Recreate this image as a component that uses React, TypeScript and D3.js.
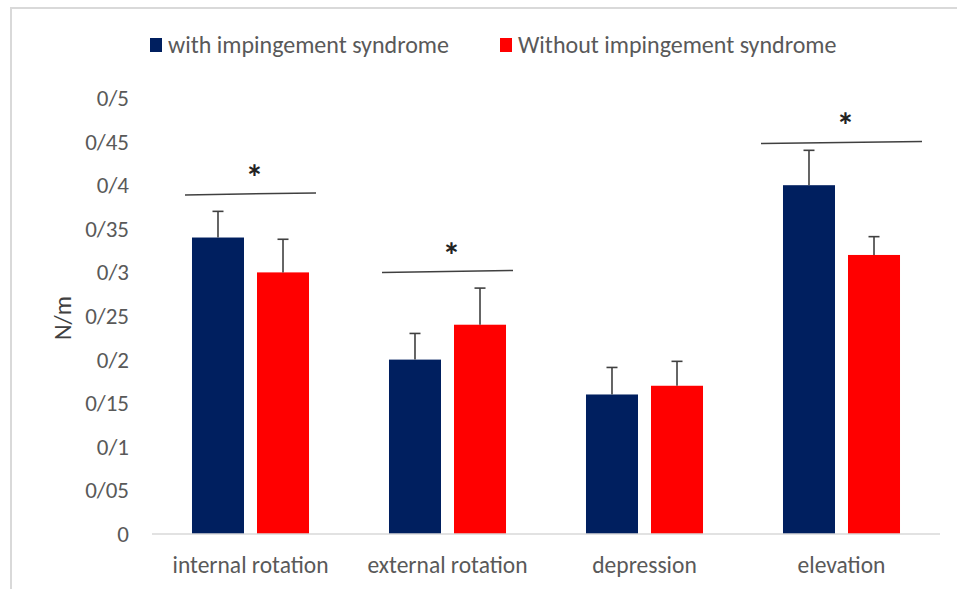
import React from 'react';
import * as d3 from 'd3';

const categories = ['internal rotation', 'external rotation', 'depression', 'elevation'];
const series = ['with impingement syndrome', 'Without impingement syndrome'];
const colors = ['#001f5f', '#ff0000'];
const withValues = [0.34, 0.2, 0.16, 0.4];
const withErrors = [0.03, 0.03, 0.031, 0.04];
const withoutValues = [0.3, 0.24, 0.17, 0.32];
const withoutErrors = [0.038, 0.042, 0.028, 0.021];
const yTicks = [0, 0.05, 0.1, 0.15, 0.2, 0.25, 0.3, 0.35, 0.4, 0.45, 0.5];
const yTickLabels = ['0', '0/05', '0/1', '0/15', '0/2', '0/25', '0/3', '0/35', '0/4', '0/45', '0/5'];
// significance markers: category, bracket level
const sigCategories = ['internal rotation', 'external rotation', 'elevation'];
const sigLevels = [0.39, 0.301, 0.449];

const font = "Carlito, 'Liberation Sans Narrow', 'Open Sans', sans-serif";

const App = () => {
  const width = 957;
  const height = 589;

  const x0 = d3.scaleBand().domain(categories).range([152, 940]).paddingInner(0.406).paddingOuter(0.203);
  const x1 = d3.scaleBand().domain(series).range([0, x0.bandwidth()]).paddingInner(0.2);
  const y = d3.scaleLinear().domain([0, 0.5]).range([534, 98]);

  const data = [withValues, withoutValues];
  const errs = [withErrors, withoutErrors];

  return (
    <svg width={width} height={height} style={{ position: 'absolute', left: 0, top: 0, background: '#fff' }}>
      <rect x={11} y={8} width={960} height={600} fill="#fff" stroke="#d9d9d9" strokeWidth={2} />

      {/* legend */}
      {series.map((s, i) => {
        const lx = i === 0 ? 150 : 500;
        return (
          <g key={s}>
            <rect x={lx} y={38} width={12} height={14} fill={colors[i]} />
            <text x={lx + 18} y={53} fontFamily={font} fontSize={24} fill="#595959">{s}</text>
          </g>
        );
      })}

      {/* y axis labels */}
      {yTicks.map((t, i) => (
        <text key={t} x={129} y={y(t) + 8} textAnchor="end" fontFamily={font} fontSize={23} fill="#595959">
          {yTickLabels[i]}
        </text>
      ))}
      <text transform={`translate(71,318) rotate(-90)`} textAnchor="middle" fontFamily={font} fontSize={24} fill="#404040">N/m</text>

      {/* bars */}
      {categories.map((c, ci) => (
        <g key={c} transform={`translate(${x0(c)},0)`}>
          {series.map((s, si) => {
            const v = data[si][ci];
            const e = errs[si][ci];
            const bx = x1(s)!;
            const cx = bx + x1.bandwidth() / 2;
            return (
              <g key={s}>
                <rect x={bx} y={y(v)} width={x1.bandwidth()} height={y(0) - y(v)} fill={colors[si]} />
                <line x1={cx} x2={cx} y1={y(v)} y2={y(v + e)} stroke="#404040" strokeWidth={1.6} />
                <line x1={cx - 5.5} x2={cx + 5.5} y1={y(v + e)} y2={y(v + e)} stroke="#404040" strokeWidth={1.6} />
              </g>
            );
          })}
        </g>
      ))}

      {/* x axis */}
      <line x1={152} x2={940} y1={y(0)} y2={y(0)} stroke="#d9d9d9" strokeWidth={1.5} />
      {categories.map(c => (
        <text key={c} x={x0(c)! + x0.bandwidth() / 2} y={573} textAnchor="middle" fontFamily={font} fontSize={23.5} fill="#595959">
          {c}
        </text>
      ))}

      {/* significance */}
      {sigCategories.map((c, i) => {
        const gx = x0(c)!;
        const cx = gx + x0.bandwidth() / 2;
        const pad = c === 'elevation' ? 22 : 7;
        return (
          <g key={c}>
            <line x1={gx - pad} x2={gx + x0.bandwidth() + pad} y1={y(sigLevels[i]) + 1} y2={y(sigLevels[i]) - 1} stroke="#404040" strokeWidth={1.5} />
            <text x={cx + 4} y={y(sigLevels[i]) - 4} textAnchor="middle" fontFamily={font} fontSize={36} fontWeight="bold" fill="#222">*</text>
          </g>
        );
      })}
    </svg>
  );
};

export default App;
